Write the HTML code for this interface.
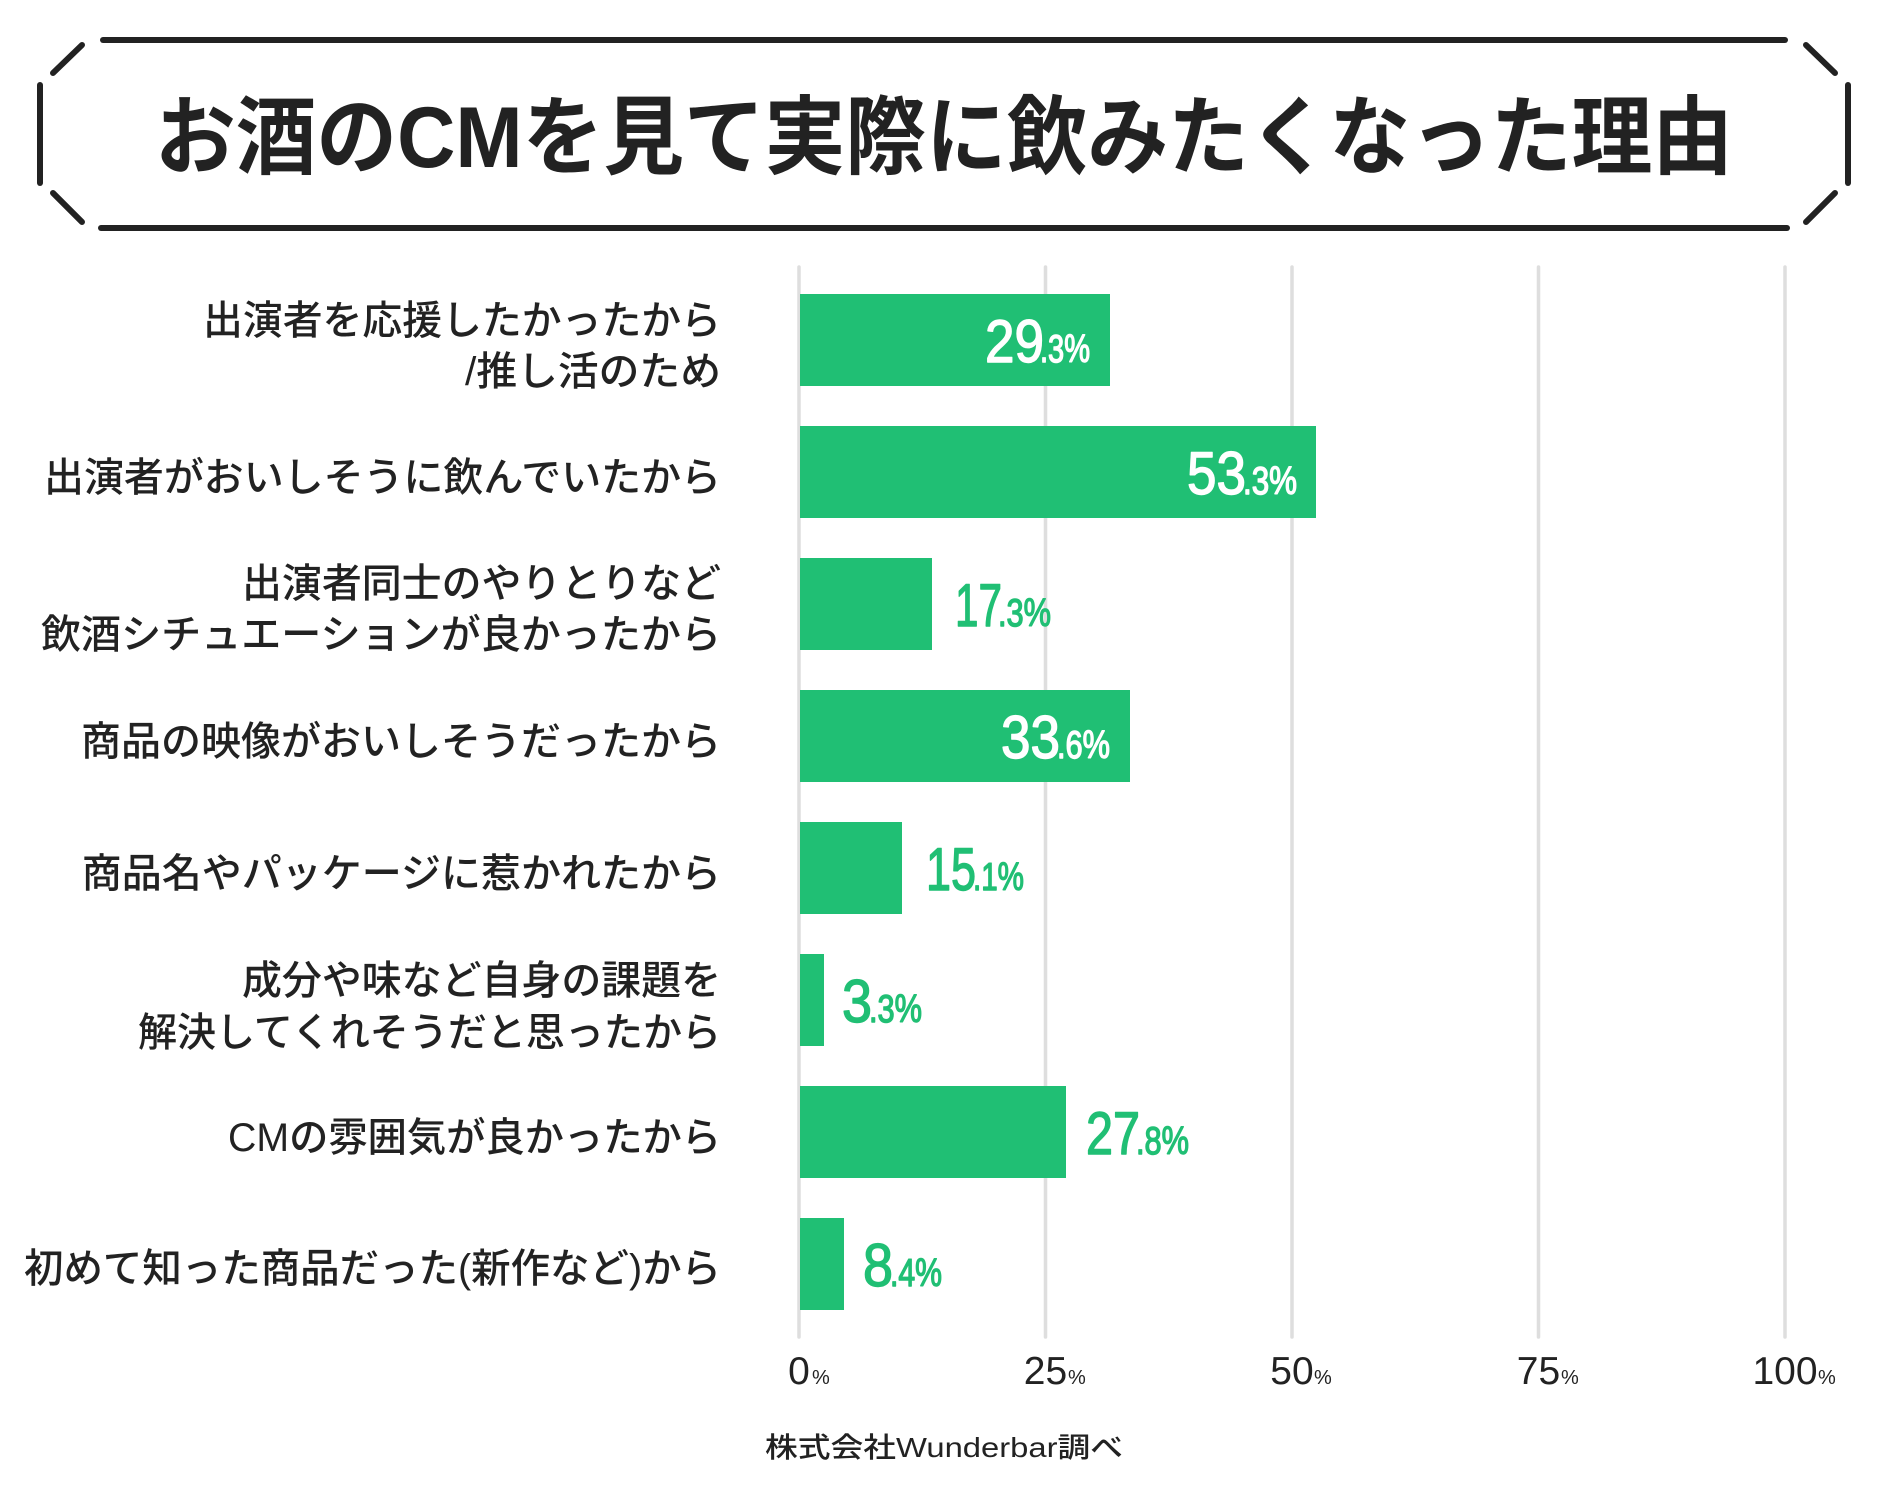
<!DOCTYPE html>
<html>
<head>
<meta charset="utf-8">
<style>
  html, body { margin: 0; padding: 0; background: #ffffff; }
  svg { display: block; }
  .jp { font-family: "Liberation Sans", "Noto Sans CJK JP", sans-serif; }
  .lab { font-size: 40px; font-weight: 500; fill: #222222; }
  .num { font-family: "Liberation Sans", sans-serif; }
  .val { font-family: "Liberation Sans", sans-serif; font-weight: 400; stroke-width: 1.4px; stroke-linejoin: round; }
  .w { fill: #ffffff; stroke: #ffffff; }
  .g { fill: #20bf74; stroke: #20bf74; }
</style>
</head>
<body>
<svg width="1888" height="1506" viewBox="0 0 1888 1506" xmlns="http://www.w3.org/2000/svg">
  <rect x="0" y="0" width="1888" height="1506" fill="#ffffff"/>

  <!-- Title frame -->
  <g stroke="#222222" stroke-width="6" stroke-linecap="round" fill="none">
    <path d="M103 40 H1785"/>
    <path d="M101 228 H1787"/>
    <path d="M82 45 L53 73"/>
    <path d="M40 85 V183"/>
    <path d="M53 193 L82 222"/>
    <path d="M1806 45 L1835 73"/>
    <path d="M1848 85 V183"/>
    <path d="M1835 193 L1806 222"/>
  </g>
  <text class="jp" x="944" y="167" text-anchor="middle" font-size="86" font-weight="700" fill="#222222" textLength="1578" lengthAdjust="spacingAndGlyphs">お酒のCMを見て実際に飲みたくなった理由</text>

  <!-- Gridlines -->
  <g stroke="#dedede" stroke-width="3.5" stroke-linecap="round">
    <path d="M799 267 V1337"/>
    <path d="M1045.5 267 V1337"/>
    <path d="M1292 267 V1337"/>
    <path d="M1538.5 267 V1337"/>
    <path d="M1785 267 V1337"/>
  </g>

  <!-- Bars -->
  <g fill="#20bf74">
    <rect x="800" y="294" width="310" height="92"/>
    <rect x="800" y="426" width="516" height="92"/>
    <rect x="800" y="558" width="132" height="92"/>
    <rect x="800" y="690" width="330" height="92"/>
    <rect x="800" y="822" width="102" height="92"/>
    <rect x="800" y="954" width="24" height="92"/>
    <rect x="800" y="1086" width="266" height="92"/>
    <rect x="800" y="1218" width="44" height="92"/>
  </g>

  <!-- Value labels -->
  <g class="val">
    <!-- 29.3 -->
    <text class="w" x="985" y="362" font-size="60" textLength="59" lengthAdjust="spacingAndGlyphs">29</text>
    <text class="w" x="1040" y="362" font-size="39" textLength="50" lengthAdjust="spacingAndGlyphs">.3%</text>
    <!-- 53.3 -->
    <text class="w" x="1187" y="494" font-size="60" textLength="59" lengthAdjust="spacingAndGlyphs">53</text>
    <text class="w" x="1243" y="494" font-size="39" textLength="54" lengthAdjust="spacingAndGlyphs">.3%</text>
    <!-- 17.3 -->
    <text class="g" x="955" y="626" font-size="60" textLength="47" lengthAdjust="spacingAndGlyphs">17</text>
    <text class="g" x="998" y="626" font-size="39" textLength="53" lengthAdjust="spacingAndGlyphs">.3%</text>
    <!-- 33.6 -->
    <text class="w" x="1001" y="758" font-size="60" textLength="59" lengthAdjust="spacingAndGlyphs">33</text>
    <text class="w" x="1057" y="758" font-size="39" textLength="53" lengthAdjust="spacingAndGlyphs">.6%</text>
    <!-- 15.1 -->
    <text class="g" x="926" y="890" font-size="60" textLength="50" lengthAdjust="spacingAndGlyphs">15</text>
    <text class="g" x="973" y="890" font-size="39" textLength="51" lengthAdjust="spacingAndGlyphs">.1%</text>
    <!-- 3.3 -->
    <text class="g" x="842" y="1022" font-size="60" textLength="30" lengthAdjust="spacingAndGlyphs">3</text>
    <text class="g" x="869" y="1022" font-size="39" textLength="53" lengthAdjust="spacingAndGlyphs">.3%</text>
    <!-- 27.8 -->
    <text class="g" x="1086" y="1154" font-size="60" textLength="54" lengthAdjust="spacingAndGlyphs">27</text>
    <text class="g" x="1136" y="1154" font-size="39" textLength="53" lengthAdjust="spacingAndGlyphs">.8%</text>
    <!-- 8.4 -->
    <text class="g" x="863" y="1286" font-size="60" textLength="30" lengthAdjust="spacingAndGlyphs">8</text>
    <text class="g" x="890" y="1286" font-size="39" textLength="52" lengthAdjust="spacingAndGlyphs">.4%</text>
  </g>

  <!-- Category labels -->
  <g class="jp lab" text-anchor="end">
    <text x="721" y="334" textLength="518" lengthAdjust="spacingAndGlyphs">出演者を応援したかったから</text>
    <text x="721" y="385" textLength="256" lengthAdjust="spacingAndGlyphs">/推し活のため</text>

    <text x="721" y="491" textLength="677" lengthAdjust="spacingAndGlyphs">出演者がおいしそうに飲んでいたから</text>

    <text x="721" y="597" textLength="479" lengthAdjust="spacingAndGlyphs">出演者同士のやりとりなど</text>
    <text x="721" y="648" textLength="680" lengthAdjust="spacingAndGlyphs">飲酒シチュエーションが良かったから</text>

    <text x="721" y="755">商品の映像がおいしそうだったから</text>

    <text x="721" y="887">商品名やパッケージに惹かれたから</text>

    <text x="721" y="994" textLength="479" lengthAdjust="spacingAndGlyphs">成分や味など自身の課題を</text>
    <text x="721" y="1046" textLength="583" lengthAdjust="spacingAndGlyphs">解決してくれそうだと思ったから</text>

    <text x="721" y="1151" textLength="493" lengthAdjust="spacingAndGlyphs">CMの雰囲気が良かったから</text>

    <text x="721" y="1282" textLength="697" lengthAdjust="spacingAndGlyphs">初めて知った商品だった(新作など)から</text>
  </g>

  <!-- Axis tick labels -->
  <g class="num" fill="#222222">
    <text x="799" y="1384" font-size="39" text-anchor="middle">0</text>
    <text x="812" y="1384" font-size="20">%</text>

    <text x="1045.5" y="1384" font-size="39" text-anchor="middle">25</text>
    <text x="1068" y="1384" font-size="20">%</text>

    <text x="1292" y="1384" font-size="39" text-anchor="middle">50</text>
    <text x="1314" y="1384" font-size="20">%</text>

    <text x="1538.5" y="1384" font-size="39" text-anchor="middle">75</text>
    <text x="1561" y="1384" font-size="20">%</text>

    <text x="1785" y="1384" font-size="39" text-anchor="middle">100</text>
    <text x="1818" y="1384" font-size="20">%</text>
  </g>

  <!-- Source -->
  <text class="jp" x="944" y="1457" text-anchor="middle" font-size="28" font-weight="500" fill="#222222" textLength="358" lengthAdjust="spacingAndGlyphs">株式会社Wunderbar調べ</text>
</svg>
</body>
</html>
